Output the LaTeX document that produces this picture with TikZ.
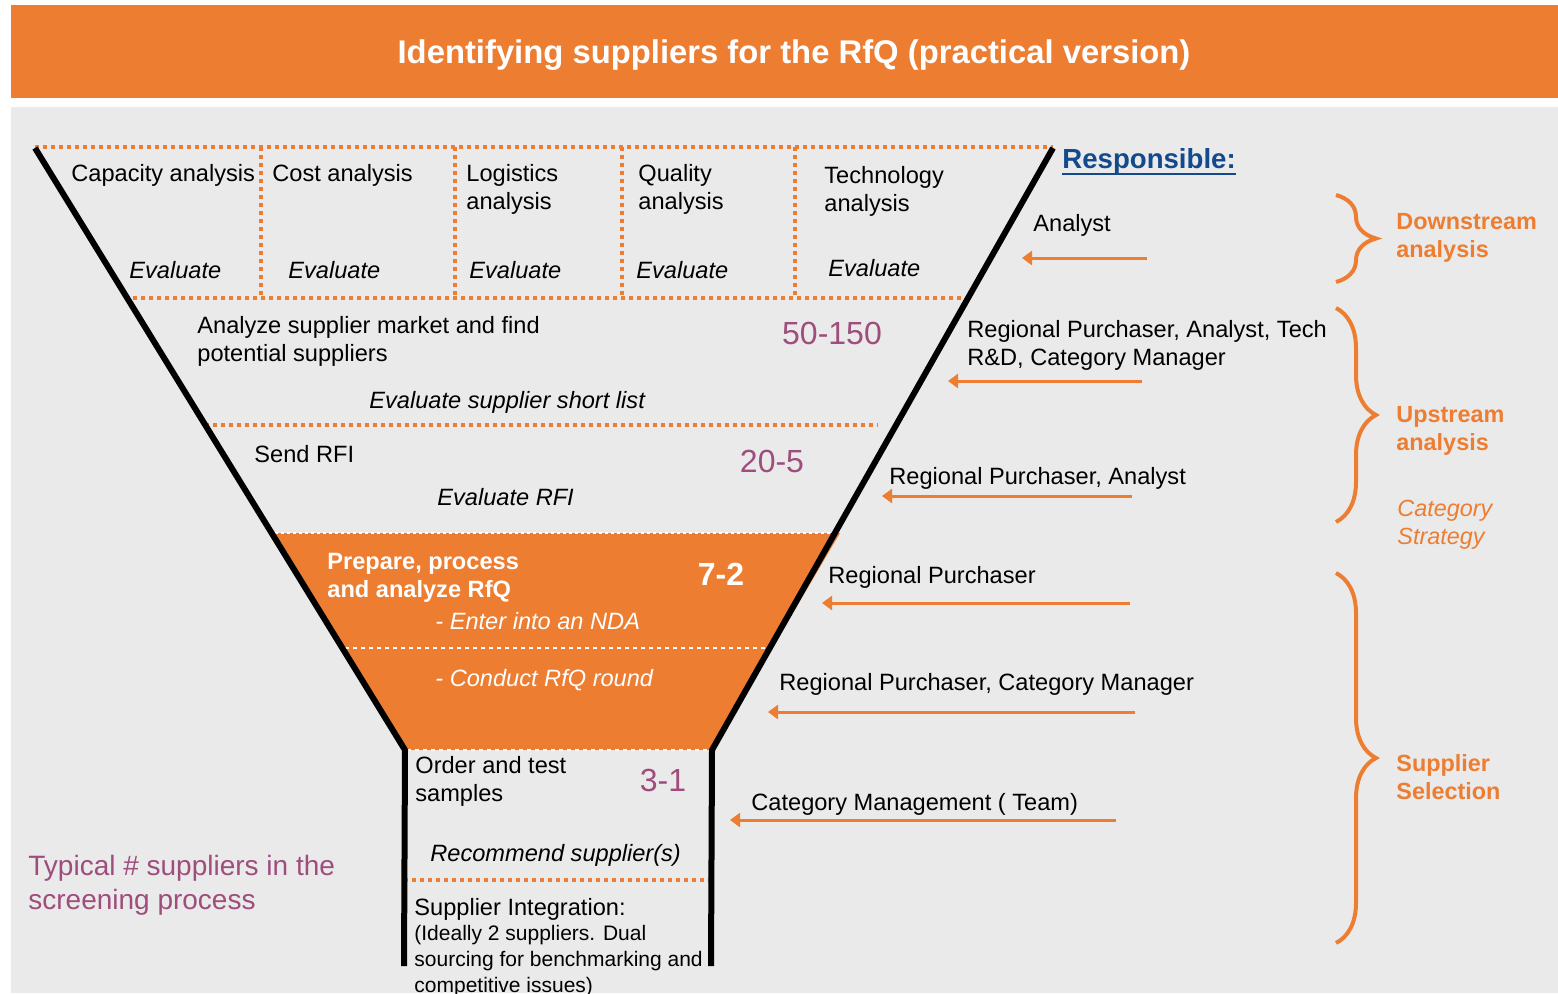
\documentclass[tikz,border=0pt]{standalone}
\usepackage{fontspec}
\setmainfont{Liberation Sans}
\usetikzlibrary{arrows.meta,positioning,decorations.pathreplacing}
\definecolor{fnorange}{HTML}{ED7D31}
\definecolor{panelgray}{HTML}{EAEAEA}
\definecolor{cntpurple}{HTML}{9E4D7C}
\definecolor{respblue}{HTML}{124A8C}

\begin{document}
\begin{tikzpicture}[x=0.5pt,y=-0.5pt,
  t/.style={anchor=north west,inner sep=0pt,align=left,font=\fontsize{11.8}{14}\selectfont},
  ev/.style={t,font=\fontsize{11.8}{14}\selectfont\itshape},
  cnt/.style={inner sep=0pt,text=cntpurple,font=\fontsize{16}{19}\selectfont},
  grp/.style={t,text=fnorange,font=\fontsize{11.7}{14}\selectfont\bfseries},
  od/.style={draw=fnorange,line width=2.2pt,dash pattern=on 2.2pt off 1.8pt},
  wd/.style={draw=white,line width=1.3pt,dash pattern=on 2pt off 2pt},
  fl/.style={line width=3pt,line join=miter},
  ra/.style={draw=fnorange,line width=1.5pt,-{Triangle[length=5pt,width=7pt]}},
  br/.style={draw=fnorange,line width=2pt,decorate,decoration={brace,amplitude=20pt}}]
\useasboundingbox (0,0) rectangle (1558,993);
\fill[white] (0,0) rectangle (1558,993);
\fill[fnorange] (11,5) rectangle (1558,98);
\fill[panelgray] (11,107) rectangle (1558,993);
\node[anchor=base,text=white,font=\fontsize{16.4}{20}\selectfont\bfseries] (title) at (794,63)
  {Identifying suppliers for the RfQ (practical version)};

% funnel corners
\coordinate (tl) at (35,148);
\coordinate (tr) at (1053,148);
\coordinate (nl) at (405,750);
\coordinate (nr) at (712,750);
\coordinate (bl) at (404,966);
\coordinate (br) at (711,966);

\fill[fnorange] (272,533) -- (840,533) -- (nr) -- (nl) -- cycle;
\draw[wd,line width=1pt,dash pattern=on 1.5pt off 1.5pt] (275,533) -- (835,533);
\draw[wd] (345,648) -- (768,648);
\draw[wd] (407,750) -- (710,750);

\draw[od] (35,147) -- (1053,147);
\draw[od] (125,298) -- (965,298);
\foreach \x in {261,455,622,795} \draw[od] (\x,147) -- (\x,298);
\draw[od] (205,425) -- (878,425);
\draw[od] (404,880) -- (711,880);

\draw[fl] (tl) -- (nl) -- (bl);
\draw[fl] (tr) -- (nr) -- (br);

\node[t] (cap) at (71,164) {Capacity analysis};
\node[t] (cost) at (272,164) {Cost analysis};
\node[t] (logi) at (466,164) {Logistics\\analysis};
\node[t] (qual) at (638,164) {Quality\\analysis};
\node[t] (tech) at (824,166) {Technology\\analysis};
\node[ev] (ev1) at (129,261) {Evaluate};
\node[ev] (ev2) at (288,261) {Evaluate};
\node[ev] (ev3) at (469,261) {Evaluate};
\node[ev] (ev4) at (636,261) {Evaluate};
\node[ev] (ev5) at (828,259) {Evaluate};

\node[t] (market) at (197,316) {Analyze supplier market and find\\potential suppliers};
\node[cnt] (n150) at (832,333) {50-150};
\node[ev] (short) at (369,391) {Evaluate supplier short list};
\node[t] (rfi) at (254,445) {Send RFI};
\node[cnt] (n5) at (772,461) {20-5};
\node[ev] (evrfi) at (437,488) {Evaluate RFI};
\node[t,text=white,font=\fontsize{11.8}{14}\selectfont\bfseries] (rfq) at (327,553)
  {Prepare, process\\and analyze RfQ};
\node[cnt,text=white,font=\fontsize{16}{19}\selectfont\bfseries] (n2) at (721,574) {7-2};
\node[ev,text=white] (nda) at (435,612) {- Enter into an NDA};
\node[ev,text=white] (round) at (435,669) {- Conduct RfQ round};
\node[t] (samples) at (415,756) {Order and test\\samples};
\node[cnt] (n1) at (663,780) {3-1};
\node[ev] (recom) at (430,844) {Recommend supplier(s)};
\node[t] (integ) at (414,898) {Supplier Integration:};
\node[t,font=\fontsize{10.5}{13}\selectfont] (dual) at (414,925)
  {(Ideally 2 suppliers. Dual\\sourcing for benchmarking and\\competitive issues)};
\node[t,text=cntpurple,font=\fontsize{14}{17}\selectfont] (typical) at (28,855)
  {Typical \# suppliers in the\\screening process};

\node[t,text=respblue,font=\fontsize{13.8}{16}\selectfont\bfseries] (resp) at (1062,148)
  {Responsible:};
\draw[respblue,line width=1pt] ([yshift=-3pt]resp.base west) -- ([yshift=-3pt]resp.base east);
\node[t] (who1) at (1033,214) {Analyst};
\node[t] (who2) at (967,320) {Regional Purchaser, Analyst, Tech\\R\&D, Category Manager};
\node[t] (who3) at (889,467) {Regional Purchaser, Analyst};
\node[t] (who4) at (828,566) {Regional Purchaser};
\node[t] (who5) at (779,673) {Regional Purchaser, Category Manager};
\node[t] (who6) at (751,793) {Category Management ( Team)};

\coordinate (s1) at (1147,258); \coordinate (e1) at (1022,258);
\coordinate (s2) at (1142,381); \coordinate (e2) at (948,381);
\coordinate (s3) at (1132,496); \coordinate (e3) at (882,496);
\coordinate (s4) at (1130,603); \coordinate (e4) at (822,603);
\coordinate (s5) at (1135,712); \coordinate (e5) at (768,712);
\coordinate (s6) at (1116,820); \coordinate (e6) at (730,820);
\foreach \i in {1,...,6} \draw[ra] (s\i) -- (e\i);

\draw[br] (1336,195) -- (1336,282);
\draw[br] (1336,308) -- (1336,522);
\draw[br] (1336,573) -- (1336,943);
\node[grp] (down) at (1396,213) {Downstream\\analysis};
\node[grp] (up) at (1396,406) {Upstream\\analysis};
\node[t,text=fnorange,font=\fontsize{11.7}{14}\selectfont\itshape] (strat) at (1397,500)
  {Category\\Strategy};
\node[grp] (sel) at (1396,754) {Supplier\\Selection};
\end{tikzpicture}
\end{document}
